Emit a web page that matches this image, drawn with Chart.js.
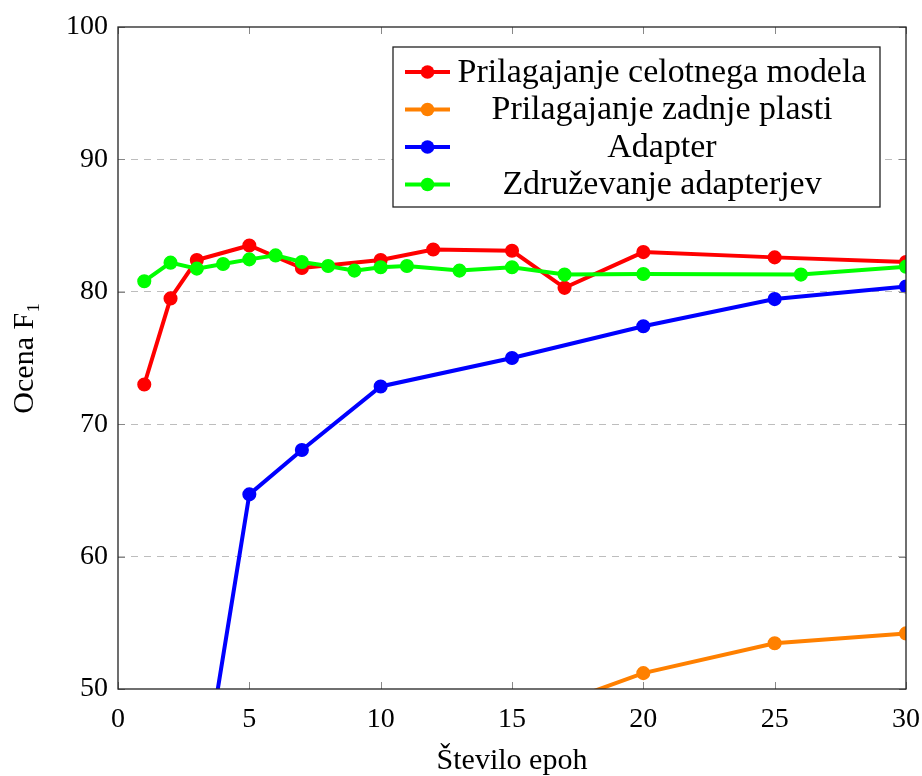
<!DOCTYPE html>
<html>
<head>
<meta charset="utf-8">
<script src="https://cdn.jsdelivr.net/npm/chart.js@4.4.1/dist/chart.umd.min.js"></script>
<style>
  html, body { margin: 0; padding: 0; background: #fff; }
  #wrap { width: 922px; height: 776px; position: relative; }
</style>
</head>
<body>
<div id="wrap"><canvas id="c" width="922" height="776"></canvas></div>
<script>
// ---- data ----
const seriesNames = [
  'Prilagajanje celotnega modela',
  'Prilagajanje zadnje plasti',
  'Adapter',
  'Združevanje adapterjev'
];
const fullX = [1, 2, 3, 5, 7, 10, 12, 15, 17, 20, 25, 30];
const fullY = [73.0, 79.5, 82.4, 83.5, 81.8, 82.4, 83.2, 83.1, 80.3, 83.0, 82.6, 82.25];
const lastX = [15, 20, 25, 30];
const lastY = [47.6, 51.2, 53.45, 54.2];
const adapterX = [3, 5, 7, 10, 15, 20, 25, 30];
const adapterY = [40.2, 64.7, 68.05, 72.85, 75.0, 77.4, 79.45, 80.4];
const mergeX = [1, 2, 3, 4, 5, 6, 7, 8, 9, 10, 11, 13, 15, 17, 20, 26, 30];
const mergeY = [80.8, 82.2, 81.75, 82.1, 82.45, 82.75, 82.25, 81.95, 81.6, 81.85, 81.95, 81.6, 81.85, 81.3, 81.35, 81.3, 81.9];
const xTicks = [0, 5, 10, 15, 20, 25, 30];
const yTicks = [50, 60, 70, 80, 90, 100];
const colors = ['#ff0000', '#ff8000', '#0000ff', '#00ff00'];

const FONT = "'Liberation Serif', 'DejaVu Serif', serif";
const pts = (xs, ys) => xs.map((x, i) => ({ x: x, y: ys[i] }));
const allX = [fullX, lastX, adapterX, mergeX];
const allY = [fullY, lastY, adapterY, mergeY];

const datasets = seriesNames.map((name, i) => ({
  label: name,
  data: pts(allX[i], allY[i]),
  borderColor: colors[i],
  backgroundColor: colors[i],
  pointBackgroundColor: colors[i],
  pointBorderColor: colors[i],
  borderWidth: 4,
  pointRadius: 6.3,
  pointBorderWidth: 1.5,
  tension: 0,
  order: seriesNames.length - i
}));

// frame, inward ticks and legend inside the plot
const framePlugin = {
  id: 'frame',
  afterDraw(chart) {
    const ctx = chart.ctx;
    const a = chart.chartArea;
    const xs = chart.scales.x, ys = chart.scales.y;
    ctx.save();
    ctx.strokeStyle = '#888';
    ctx.lineWidth = 1;
    ctx.beginPath();
    xTicks.forEach(v => {
      const px = Math.round(xs.getPixelForValue(v)) + 0.5;
      ctx.moveTo(px, a.bottom); ctx.lineTo(px, a.bottom - 7);
      ctx.moveTo(px, a.top); ctx.lineTo(px, a.top + 7);
    });
    yTicks.forEach(v => {
      const py = Math.round(ys.getPixelForValue(v)) + 0.5;
      ctx.moveTo(a.left, py); ctx.lineTo(a.left + 7, py);
      ctx.moveTo(a.right, py); ctx.lineTo(a.right - 7, py);
    });
    ctx.stroke();
    ctx.strokeStyle = '#222';
    ctx.lineWidth = 1.3;
    ctx.strokeRect(a.left, a.top, a.right - a.left, a.bottom - a.top);

    // legend
    const bx = a.right - 513, by = a.top + 20, bw = 487, bh = 160;
    ctx.fillStyle = '#fff';
    ctx.fillRect(bx, by, bw, bh);
    ctx.strokeStyle = '#222';
    ctx.lineWidth = 1.3;
    ctx.strokeRect(bx, by, bw, bh);
    ctx.font = '25px ' + FONT;
    const wRef = ctx.measureText(seriesNames[0]).width;
    const size = 25 * 409 / wRef;
    ctx.font = size.toFixed(2) + 'px ' + FONT;
    ctx.textAlign = 'center';
    ctx.textBaseline = 'middle';
    seriesNames.forEach((name, i) => {
      const ry = by + 25 + i * 37.5;
      ctx.strokeStyle = colors[i];
      ctx.fillStyle = colors[i];
      ctx.lineWidth = 4;
      ctx.beginPath();
      ctx.moveTo(bx + 12, ry); ctx.lineTo(bx + 57, ry);
      ctx.stroke();
      ctx.beginPath();
      ctx.arc(bx + 34.5, ry, 6.8, 0, Math.PI * 2);
      ctx.fill();
      ctx.fillStyle = '#000';
      ctx.fillText(name, bx + 269, ry + 1);
    });
    ctx.restore();
  }
};

new Chart(document.getElementById('c'), {
  type: 'line',
  data: { datasets: datasets },
  options: {
    responsive: false,
    animation: false,
    layout: { padding: { left: 0, right: 16, top: 27, bottom: 0 } },
    plugins: { legend: { display: false }, tooltip: { enabled: false } },
    scales: {
      x: {
        type: 'linear',
        min: 0, max: 30,
        afterBuildTicks: s => { s.ticks = xTicks.map(v => ({ value: v })); },
        afterFit: s => { s.height = 87; s.paddingLeft = 0; s.paddingRight = 0; },
        grid: { display: false, drawTicks: false },
        border: { display: false },
        ticks: { color: '#000', font: { family: FONT, size: 28 }, padding: 14, maxRotation: 0 },
        title: { display: true, text: 'Število epoh', color: '#000', font: { family: FONT, size: 30, lineHeight: 1 }, padding: { top: 0, bottom: 0 } }
      },
      y: {
        type: 'linear',
        min: 50, max: 100,
        afterBuildTicks: s => { s.ticks = yTicks.map(v => ({ value: v })); },
        afterFit: s => { s.width = 118; s.paddingTop = 0; s.paddingBottom = 0; },
        grid: {
          drawTicks: false,
          color: ctx => (ctx.tick && (ctx.tick.value === 50 || ctx.tick.value === 100)) ? 'rgba(0,0,0,0)' : '#bdbdbd',
          lineWidth: 1
        },
        border: { display: false, dash: [7, 6] },
        ticks: { color: '#000', font: { family: FONT, size: 28 }, padding: 10 },
        title: { display: true, text: 'Ocena F₁', color: '#000', font: { family: FONT, size: 30, lineHeight: 1 }, padding: { top: 10, bottom: 0 } }
      }
    }
  },
  plugins: [framePlugin]
});
</script>
</body>
</html>
